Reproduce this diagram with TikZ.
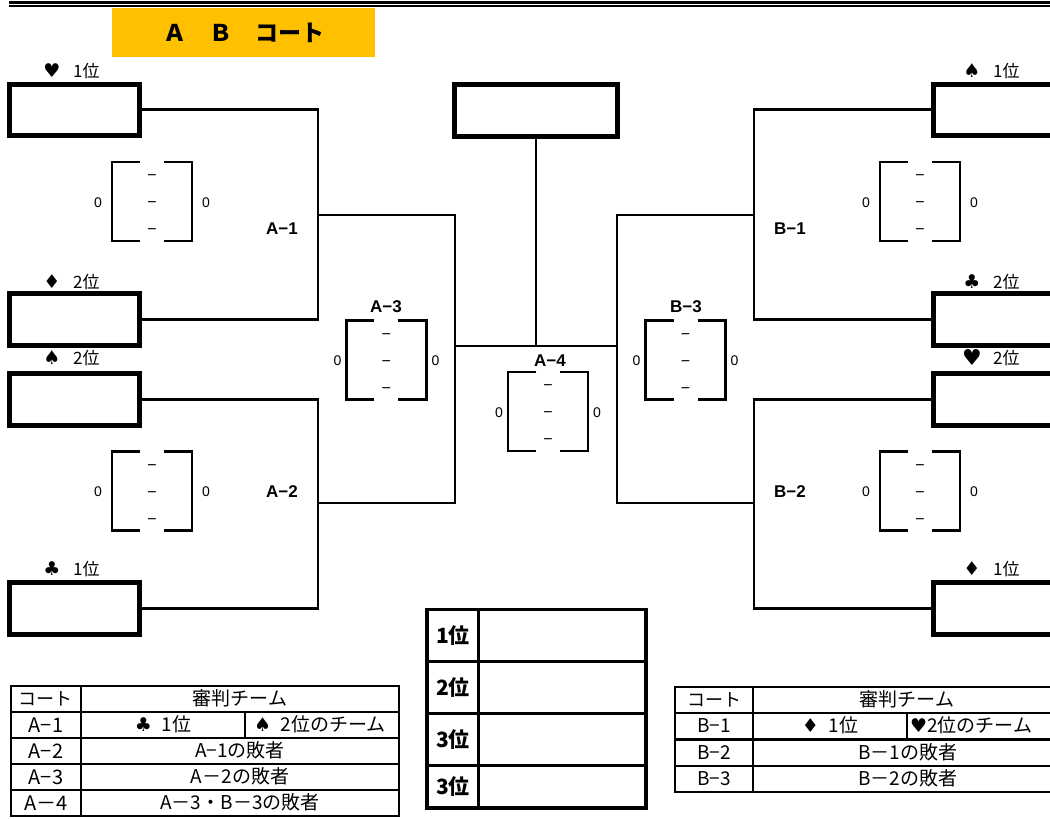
\documentclass[tikz,border=0pt]{standalone}
\usepackage{fontspec}
\setmainfont{Noto Sans CJK JP}
\newfontfamily\lat{Liberation Sans}
\newfontfamily\suitf{DejaVu Sans}
\newcommand{\suit}[1]{{\suitf #1}}
\definecolor{titleorange}{HTML}{FFC000}
\tikzset{
  t/.style={inner sep=0pt, text height=#1*0.8pt, text depth=#1*0.08pt, font=\fontsize{#1pt}{#1pt}\selectfont},
  team/.style={draw, rectangle, line width=5pt, minimum width=129.5pt, minimum height=51.5pt, inner sep=0pt},
  conn/.style={line width=2.8pt},
  brk/.style={line width=2.6pt},
  tabl/.style={line width=2.8pt},
  pics/score/.style={code={
    \draw[brk] (-12,0) -- (-40,0) -- (-40,79) -- (-12,79);
    \draw[brk] (12,0) -- (40,0) -- (40,79) -- (12,79);
    \node[t=16] (-d1) at (0,13) {\lat −};
    \node[t=16] (-d2) at (0,40) {\lat −};
    \node[t=16] (-d3) at (0,67) {\lat −};
    \node[t=14] (-zl) at (-#1,40) {\lat 0};
    \node[t=14] (-zr) at (#1,40) {\lat 0};
  }}
}
\begin{document}
\begin{tikzpicture}[x=1pt,y=-1pt]
\useasboundingbox (0,0) rectangle (1050,819);
\fill[white] (0,0) rectangle (1050,819);
\clip (0,0) rectangle (1050,819);

% top double rule
\draw[line width=3pt] (9,2.5) -- (1050,2.5);
\draw[line width=2pt] (9,6.2) -- (1050,6.2);

% title
\fill[titleorange] (112,8) rectangle (375,57);
\node[t=23] (title) at (244,33) {\bfseries Ａ　Ｂ　コート};

% team boxes left
\node[team] (pA1) at (74.25,109.75) {};
\node[team] (pA2) at (74.25,319.5) {};
\node[team] (pA3) at (74.25,399.25) {};
\node[team] (pA4) at (74.25,608.5) {};
% team boxes right
\node[team] (pB1) at (997.75,109.75) {};
\node[team] (pB2) at (997.75,319.5) {};
\node[team] (pB3) at (997.75,399.25) {};
\node[team] (pB4) at (997.75,608.5) {};
% final box
\node[draw, rectangle, line width=5pt, minimum width=162.6pt, minimum height=52.3pt, inner sep=0pt] (fin) at (536,110.15) {};

% seed labels left
\node[t=19] (sA1) at (52,71) {\suit{♥}};
\node[t=17, anchor=west] (rA1) at (73,71) {1位};
\node[t=19] (sA2) at (52,282) {\suit{♦}};
\node[t=17, anchor=west] (rA2) at (73,282) {2位};
\node[t=19] (sA3) at (52,358) {\suit{♠}};
\node[t=17, anchor=west] (rA3) at (73,358) {2位};
\node[t=19] (sA4) at (52,569) {\suit{♣}};
\node[t=17, anchor=west] (rA4) at (73,569) {1位};
% seed labels right
\node[t=19] (sB1) at (972,71) {\suit{♠}};
\node[t=17, anchor=west] (rB1) at (993,71) {1位};
\node[t=19] (sB2) at (972,282) {\suit{♣}};
\node[t=17, anchor=west] (rB2) at (993,282) {2位};
\node[t=22] (sB3) at (972,358) {\suit{♥}};
\node[t=17, anchor=west] (rB3) at (993,358) {2位};
\node[t=19] (sB4) at (972,569) {\suit{♦}};
\node[t=17, anchor=west] (rB4) at (993,569) {1位};

% junctions
\coordinate (jA1) at (318,215);
\coordinate (jA2) at (318,503);
\coordinate (jA3) at (455,346);
\coordinate (jB1) at (754,215);
\coordinate (jB2) at (754,503);
\coordinate (jB3) at (617,346);

% connectors
\draw[conn] (pA1.east) -| (jA1) |- (pA2.east);
\draw[conn] (pA3.east) -| (jA2) |- (pA4.east);
\draw[conn] (jA1) -| (jA3) |- (jA2);
\draw[conn] (pB1.west) -| (jB1) |- (pB2.west);
\draw[conn] (pB3.west) -| (jB2) |- (pB4.west);
\draw[conn] (jB1) -| (jB3) |- (jB2);
\draw[conn] (jA3) -- (jB3);
\draw[conn] (fin.south) -- (fin.south |- jA3);

% score brackets
\pic (scA1) at (152,162) {score=54};
\pic (scA2) at (152,451.7) {score=54};
\pic (scB1) at (920,162) {score=54};
\pic (scB2) at (920,451.7) {score=54};
\pic (scA3) at (386.4,320.7) {score=49};
\pic (scB3) at (685.6,320.7) {score=49};
\pic (scA4) at (548,372) {score=49};

% match labels
\node[t=17] (mA1) at (282,228) {\lat\bfseries A−1};
\node[t=17] (mA2) at (282,491) {\lat\bfseries A−2};
\node[t=17] (mB1) at (790,228) {\lat\bfseries B−1};
\node[t=17] (mB2) at (790,491) {\lat\bfseries B−2};
\node[t=17] (mA3) at (386,306) {\lat\bfseries A−3};
\node[t=17] (mB3) at (686,306) {\lat\bfseries B−3};
\node[t=17] (mA4) at (550,360) {\lat\bfseries A−4};

% results table
\draw[line width=3pt] (478.3,609.5) -- (478.3,808);
\draw[line width=3pt] (427,661.7) -- (646,661.7);
\draw[line width=3pt] (427,713.3) -- (646,713.3);
\draw[line width=3pt] (427,765.7) -- (646,765.7);
\draw[line width=3.3pt] (427,609.5) rectangle (646,808);
\node[t=21] (r1) at (453,635.6) {\bfseries 1位};
\node[t=21] (r2) at (453,687.5) {\bfseries 2位};
\node[t=21] (r3) at (453,739.5) {\bfseries 3位};
\node[t=21] (r4) at (453,787) {\bfseries 3位};

% referee table A
\draw[tabl] (11,686) rectangle (399,816);
\foreach \yy in {712,738,764,790} \draw[tabl] (11,\yy) -- (399,\yy);
\draw[tabl] (81,686) -- (81,816);
\draw[tabl] (245,712) -- (245,738);
\node[t=18] (ta0) at (46,699) {コート};
\node[t=19] (ta0r) at (240,699) {審判チーム};
\node[t=20] (ta1) at (46,725) {A−1};
\node[t=19] (ta1a) at (163,725) {\suit{♣}\hspace{0.5em}1位};
\node[t=19] (ta1b) at (320,725) {\suit{♠}\hspace{0.5em}2位のチーム};
\node[t=20] (ta2) at (46,751) {A−2};
\node[t=19] (ta2r) at (240,751) {A−1の敗者};
\node[t=20] (ta3) at (46,777) {A−3};
\node[t=19] (ta3r) at (240,777) {A－2の敗者};
\node[t=20] (ta4) at (46,803) {A－4};
\node[t=19] (ta4r) at (240,803) {A－3・B－3の敗者};

% referee table B
\draw[tabl] (675,687) rectangle (1063,792);
\foreach \yy in {713,739.5,766} \draw[tabl] (675,\yy) -- (1063,\yy);
\draw[tabl] (753,687) -- (753,792);
\draw[tabl] (907,713) -- (907,739.5);
\node[t=18] (tb0) at (714,700) {コート};
\node[t=19] (tb0r) at (907,700) {審判チーム};
\node[t=19] (tb1) at (714,726) {B−1};
\node[t=19] (tb1a) at (830,726) {\suit{♦}\hspace{0.5em}1位};
\node[t=19, anchor=west] (tb1b) at (910,726) {\suit{♥}2位のチーム};
\node[t=19] (tb2) at (714,752.7) {B−2};
\node[t=19] (tb2r) at (908,752.7) {B－1の敗者};
\node[t=19] (tb3) at (714,779) {B−3};
\node[t=19] (tb3r) at (908,779) {B－2の敗者};
\end{tikzpicture}
\end{document}
